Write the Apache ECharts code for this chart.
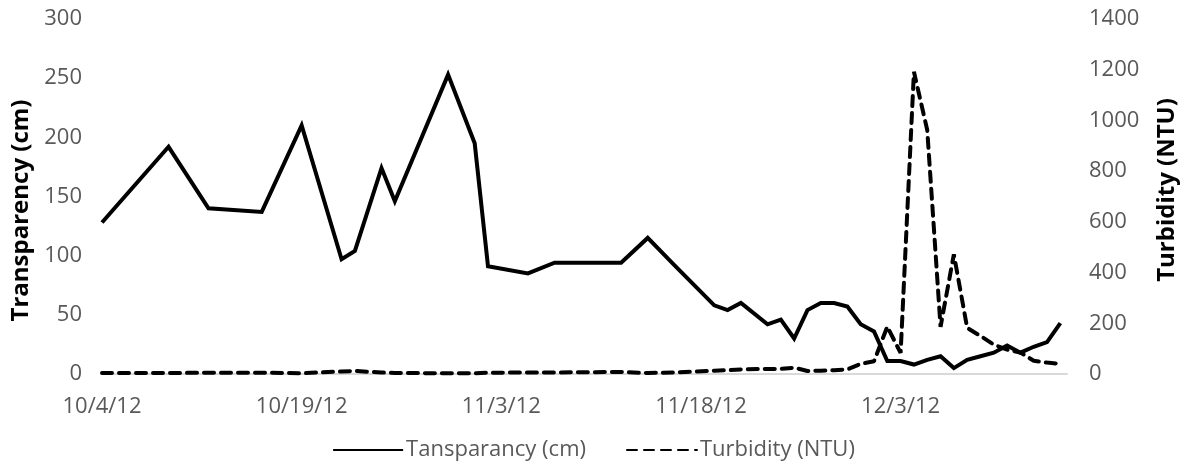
<!DOCTYPE html>
<html>
<head>
<meta charset="utf-8">
<title>Transparency and turbidity</title>
<script src="https://cdn.jsdelivr.net/npm/echarts@6/dist/echarts.min.js"></script>
<style>
  html, body { margin: 0; padding: 0; background: #fff; }
  #chart { width: 1187px; height: 471px; }
</style>
</head>
<body>
<div id="chart"></div>
<script>
  // sampling dates (M/D/YY)
  var dates = [
    '10/4/12', '10/9/12', '10/12/12', '10/16/12', '10/19/12', '10/22/12', '10/23/12',
    '10/25/12', '10/26/12', '10/30/12', '11/1/12', '11/2/12', '11/5/12', '11/7/12',
    '11/12/12', '11/14/12', '11/16/12', '11/19/12', '11/20/12', '11/21/12', '11/23/12',
    '11/24/12', '11/25/12', '11/26/12', '11/27/12', '11/28/12', '11/29/12', '11/30/12',
    '12/1/12', '12/2/12', '12/3/12', '12/4/12', '12/5/12', '12/6/12', '12/7/12',
    '12/8/12', '12/9/12', '12/10/12', '12/11/12', '12/12/12', '12/13/12', '12/14/12', '12/15/12'
  ];

  // cm, left axis
  var transparency = [
    128, 192, 140, 137, 210, 97, 104,
    174, 146, 253, 195, 91, 85, 94,
    94, 115, 92, 58, 54, 60, 42,
    46, 30, 54, 60, 60, 57, 42,
    36, 11, 11, 8, 12, 15, 5,
    12, 15, 18, 24, 18, 23, 27, 43
  ];

  // NTU, right axis
  var turbidity = [
    4, 4, 5, 5, 3, 10, 12,
    6, 4, 3, 3, 5, 6, 6,
    8, 4, 6, 13, 15, 18, 20,
    20, 25, 12, 13, 15, 18, 40,
    50, 187, 83, 1192, 962, 186, 472,
    182, 150, 116, 96, 85, 52, 45, 40
  ];

  var leftTicks = { min: 0, max: 300, interval: 50 };
  var rightTicks = { min: 0, max: 1400, interval: 200 };

  var start = new Date(2012, 9, 4);

  function dayIndex(s) {
    var p = s.split('/');
    var d = new Date(2000 + (+p[2]), +p[0] - 1, +p[1]);
    return Math.round((d - start) / 86400000);
  }

  function fmtDay(v) {
    var d = new Date(2012, 9, 4 + v);
    return (d.getMonth() + 1) + '/' + d.getDate() + '/12';
  }

  var xs = dates.map(dayIndex);
  var tData = xs.map(function (x, i) { return [x, transparency[i]]; });
  var nData = xs.map(function (x, i) { return [x, turbidity[i]]; });

  var grey = '#595959';
  var font = '"Open Sans", "Noto Sans", sans-serif';

  var chart = echarts.init(document.getElementById('chart'), null, { renderer: 'canvas' });

  chart.setOption({
    animation: false,
    backgroundColor: '#fff',
    textStyle: { fontFamily: font },
    grid: { left: 102, right: 112, top: 19, bottom: 97, containLabel: false },
    legend: {
      bottom: 5,
      left: 'center',
      itemWidth: 70,
      itemHeight: 14,
      itemGap: 40,
      itemStyle: { opacity: 0 },
      textStyle: { color: grey, fontSize: 22, fontFamily: font, padding: [0, 0, 0, -2] },
      data: ['Tansparancy (cm)', 'Turbidity (NTU)']
    },
    xAxis: {
      type: 'value',
      min: 0,
      max: 72.5,
      interval: 15,
      axisLine: { show: true, lineStyle: { color: '#d9d9d9', width: 2 } },
      axisTick: { show: false },
      splitLine: { show: false },
      axisLabel: {
        color: grey, fontSize: 22, fontFamily: font, margin: 22,
        showMaxLabel: false,
        formatter: fmtDay
      }
    },
    yAxis: [
      {
        type: 'value',
        min: leftTicks.min, max: leftTicks.max, interval: leftTicks.interval,
        name: 'Transparency (cm)',
        nameLocation: 'middle',
        nameGap: 68,
        nameTextStyle: { color: '#000', fontSize: 24, fontWeight: 'bold', fontFamily: font, padding: [0, 28, 0, 0] },
        axisLine: { show: false },
        axisTick: { show: false },
        splitLine: { show: false },
        axisLabel: { color: grey, fontSize: 22, fontFamily: font, margin: 20 }
      },
      {
        type: 'value',
        min: rightTicks.min, max: rightTicks.max, interval: rightTicks.interval,
        name: 'Turbidity (NTU)',
        nameLocation: 'middle',
        nameGap: 88,
        nameTextStyle: { color: '#000', fontSize: 24, fontWeight: 'bold', fontFamily: font, padding: [0, 0, 0, 13] },
        axisLine: { show: false },
        axisTick: { show: false },
        splitLine: { show: false },
        axisLabel: {
          color: grey, fontSize: 22, fontFamily: font, margin: 22,
          formatter: function (v) { return String(v); }
        }
      }
    ],
    series: [
      {
        name: 'Tansparancy (cm)',
        type: 'line',
        yAxisIndex: 0,
        data: tData,
        symbol: 'none',
        itemStyle: { color: '#000' },
        lineStyle: { color: '#000', width: 4, join: 'miter' },
        z: 3
      },
      {
        name: 'Turbidity (NTU)',
        type: 'line',
        yAxisIndex: 1,
        data: nData,
        symbol: 'none',
        itemStyle: { color: '#000' },
        lineStyle: { color: '#000', width: 4, type: [10, 7], cap: 'round' },
        z: 2
      }
    ]
  });

  window.addEventListener('resize', function () { chart.resize(); });
</script>
</body>
</html>
